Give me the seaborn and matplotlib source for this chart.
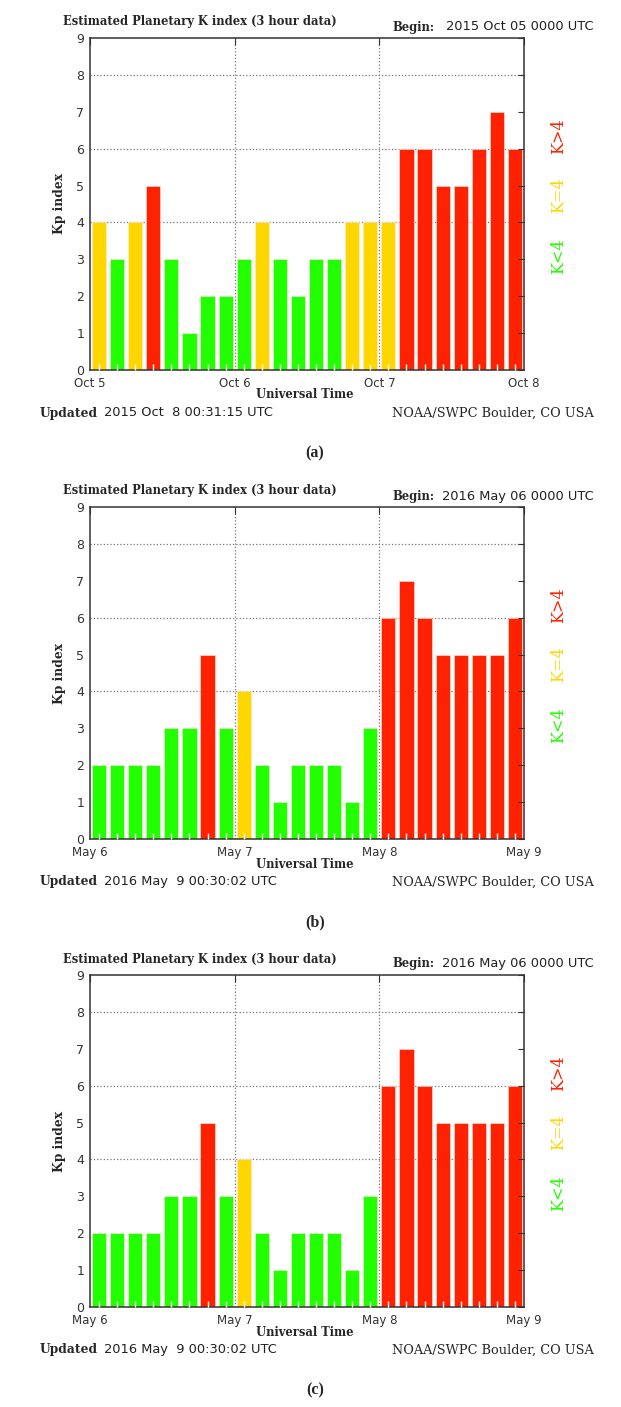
import pandas as pd
import seaborn as sns
import numpy as np
import matplotlib.pyplot as plt

# Kp values, 8 three-hour slots per day, 3 days per panel
kp_a = [4, 3, 4, 5, 3, 1, 2, 2,
        3, 4, 3, 2, 3, 3, 4, 4,
        4, 6, 6, 5, 5, 6, 7, 6]
kp_b = [2, 2, 2, 2, 3, 3, 5, 3,
        4, 2, 1, 2, 2, 2, 1, 3,
        6, 7, 6, 5, 5, 5, 5, 6]
kp_c = [2, 2, 2, 2, 3, 3, 5, 3,
        4, 2, 1, 2, 2, 2, 1, 3,
        6, 7, 6, 5, 5, 5, 5, 6]

days_a = ['Oct 5', 'Oct 6', 'Oct 7', 'Oct 8']
days_b = ['May 6', 'May 7', 'May 8', 'May 9']
begin_a = '2015 Oct 05 0000 UTC'
begin_b = '2016 May 06 0000 UTC'
updated_a = '2015 Oct  8 00:31:15 UTC'
updated_b = '2016 May  9 00:30:02 UTC'
tags = ['(a)', '(b)', '(c)']

grid_levels = [4, 6, 8]
colors = {'low': '#22ff00', 'storm4': '#ffd700', 'high': '#ff2200'}

sns.set_style('white')
plt.rcParams['font.family'] = ['DejaVu Sans']

W, H = 621, 1407
fig = plt.figure(figsize=(W / 100, H / 100), dpi=100)


def fx(x):
    return x / W


def fy(y):
    return 1 - y / H


def level(k):
    if k < 4:
        return 'low'
    if k == 4:
        return 'storm4'
    return 'high'


def panel(off, kp, days, begin, updated, tag):
    df = pd.DataFrame({'slot': range(len(kp)), 'kp': kp})
    df['level'] = df['kp'].apply(level)

    ax = fig.add_axes([fx(90), fy(370 + off), 434 / W, 332 / H])
    sns.barplot(data=df, x='slot', y='kp', hue='level', palette=colors,
                dodge=False, width=0.78, legend=False, ax=ax, saturation=1,
                edgecolor='#ffe8e0', linewidth=0.4, zorder=1)

    # dotted grid behind bars
    for g in grid_levels:
        ax.axhline(g, ls=':', color='#777777', lw=0.9, zorder=0)
    for d in [7.5, 15.5]:
        ax.axvline(d, ls=':', color='#777777', lw=0.9, zorder=0)

    ax.set_axisbelow(False)
    ax.set_xlim(-0.5, 23.5)
    ax.set_ylim(0, 9)
    ax.set_yticks(range(10))
    ax.set_xticks([-0.5, 7.5, 15.5, 23.5])
    ax.set_xticklabels(days)
    ax.set_xticks(np.arange(24), minor=True)
    ax.set_xlabel('')
    ax.set_ylabel('')

    ax.tick_params(axis='y', left=False, right=True, direction='in', length=4,
                   color='#333333', labelsize=9, labelcolor='#333333', pad=4)
    ax.tick_params(axis='x', which='major', bottom=False, top=True, direction='in',
                   length=5, color='#333333', labelsize=8.5, labelcolor='#333333', pad=5)
    ax.tick_params(axis='x', which='minor', bottom=True, top=False, direction='in',
                   length=4, color='white', width=1)
    for s in ax.spines.values():
        s.set_color('#333333')
        s.set_linewidth(1.1)

    # header and footer texts
    fig.text(fx(63), fy(22 + off), 'Estimated Planetary K index (3 hour data)',
             family='DejaVu Serif', weight='bold', fontsize=8.3, va='center')
    fig.text(fx(392), fy(27 + off), 'Begin:', family='DejaVu Serif',
             weight='bold', fontsize=8.3, va='center')
    fig.text(fx(594), fy(27 + off), begin, fontsize=9.4, va='center', ha='right',
             color='#222222')
    fig.text(fx(60), fy(204 + off), 'Kp index', family='DejaVu Serif',
             weight='bold', fontsize=8.8, rotation=90, va='center', ha='center')
    fig.text(fx(305), fy(395 + off), 'Universal Time', family='DejaVu Serif',
             weight='bold', fontsize=8.3, va='center', ha='center')
    fig.text(fx(40), fy(413 + off), 'Updated', family='DejaVu Serif',
             weight='bold', fontsize=8.8, va='center')
    fig.text(fx(104), fy(413 + off), updated, fontsize=9.4, va='center',
             color='#222222')
    fig.text(fx(594), fy(413 + off), 'NOAA/SWPC Boulder, CO USA',
             family='DejaVu Serif', fontsize=9.3, va='center', ha='right')
    fig.text(fx(315), fy(453 + off), tag, family='Liberation Serif',
             weight='bold', fontsize=11.5, va='center', ha='center')

    # colour key
    fig.text(fx(559), fy(136 + off), 'K>4', color=colors['high'],
             family='DejaVu Serif', fontsize=11.5, rotation=90, va='center', ha='center')
    fig.text(fx(559), fy(195 + off), 'K=4', color=colors['storm4'],
             family='DejaVu Serif', fontsize=11.5, rotation=90, va='center', ha='center')
    fig.text(fx(559), fy(256 + off), 'K<4', color=colors['low'],
             family='DejaVu Serif', fontsize=11.5, rotation=90, va='center', ha='center')


panel(0, kp_a, days_a, begin_a, updated_a, tags[0])
panel(469, kp_b, days_b, begin_b, updated_b, tags[1])
panel(937, kp_c, days_b, begin_b, updated_b, tags[2])

plt.savefig('out.png', dpi=100)
